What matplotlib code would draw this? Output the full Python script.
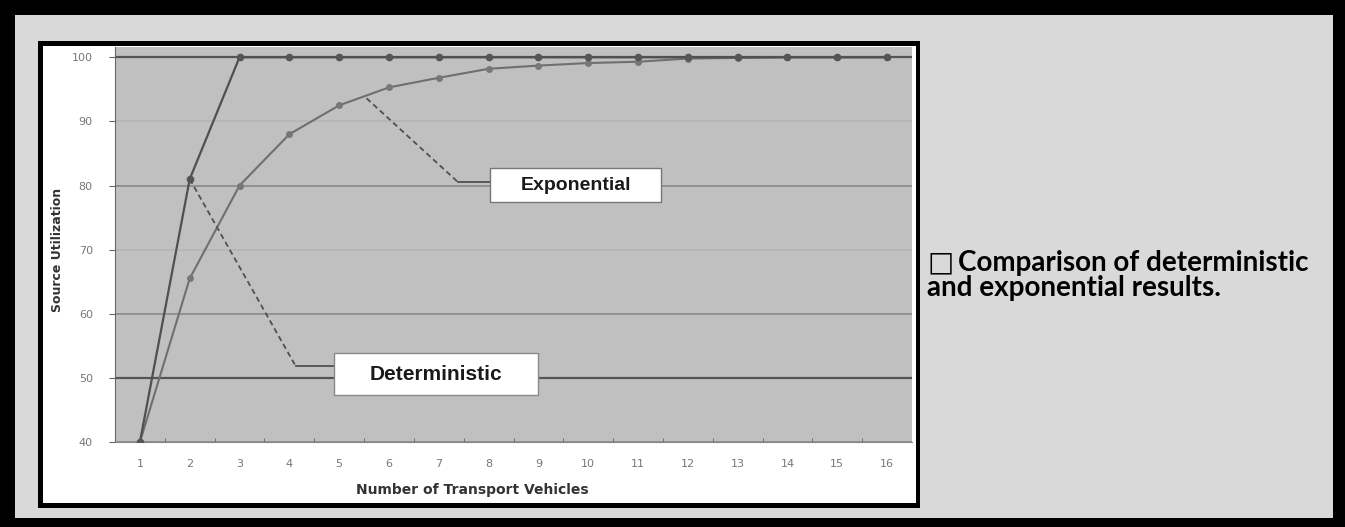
import numpy as np
import matplotlib
matplotlib.use("Agg")
import matplotlib.pyplot as plt
from matplotlib.patches import Rectangle

# Data
vehicles = list(range(1, 17))
deterministic = [40, 81, 100, 100, 100, 100, 100, 100, 100, 100, 100, 100, 100, 100, 100, 100]
exponential = [40, 65.5, 80, 88, 92.5, 95.3, 96.8, 98.2, 98.7, 99.1, 99.3, 99.8, 99.9, 100, 100, 100]
y_ticks = [40, 50, 60, 70, 80, 90, 100]
grid_colors = ["#888888", "#555555", "#8a8a8a", "#b4b4b4", "#888888", "#b4b4b4", "#555555"]
caption_lines = ["Comparison of deterministic", "and exponential results."]

W, H = 1345, 527


def fx(px):
    return px / W


def fy(py):
    return 1 - py / H


def fig_rect(x0, y0, x1, y1, **kw):
    # pixel box (top-left origin) -> figure fraction rectangle
    return Rectangle((fx(x0), fy(y1)), fx(x1) - fx(x0), fy(y0) - fy(y1),
                     transform=fig.transFigure, **kw)


fig = plt.figure(figsize=(W / 100, H / 100), dpi=100, facecolor="black")

# outer grey panel and white chart frame
fig.patches.append(fig_rect(15, 15, 1333, 518, facecolor="#d9d9d9", edgecolor="none", zorder=-3))
fig.patches.append(fig_rect(38, 41, 920, 508, facecolor="black", edgecolor="none", zorder=-2))
fig.patches.append(fig_rect(43, 46, 916, 503, facecolor="white", edgecolor="none", zorder=-1))

ax = fig.add_axes([fx(115), fy(442), fx(912) - fx(115), fy(47) - fy(442)])
ax.set_zorder(2)
ax.set_facecolor("#c0c0c0")
ax.set_xlim(0.5, 16.5)
ax.set_ylim(40, 101.6)

for yv, c in zip(y_ticks, grid_colors):
    ax.axhline(yv, color=c, lw=1.6 if c == "#555555" else 1.2, zorder=1)

ax.plot(vehicles, exponential, color="#6f6f6f", lw=1.5, marker="o", ms=4,
        mfc="#777777", mec="#777777", zorder=3)
ax.plot(vehicles, deterministic, color="#505050", lw=1.6, marker="o", ms=4.5,
        mfc="#555555", mec="#555555", zorder=4)

# callouts
ax.plot([5.55, 7.39], [93.6, 80.5], color="#505050", lw=1.3, ls=(0, (3, 2)), zorder=5)
ax.plot([7.39, 8.03], [80.5, 80.5], color="#505050", lw=1.3, zorder=5)
ax.add_patch(Rectangle((8.03, 77.4), 3.43, 5.3, facecolor="white", edgecolor="#777777", lw=1, zorder=6))
ax.text(9.745, 80.0, "Exponential", ha="center", va="center", fontsize=14,
        family="Liberation Sans", weight="bold", color="#1a1a1a", zorder=7)

ax.plot([2.0, 4.13], [81, 51.8], color="#505050", lw=1.3, ls=(0, (3, 2)), zorder=5)
ax.plot([4.13, 4.89], [51.8, 51.8], color="#505050", lw=1.3, zorder=5)
ax.add_patch(Rectangle((4.89, 47.3), 4.1, 6.6, facecolor="white", edgecolor="#888888", lw=1, zorder=6))
ax.text(6.94, 50.5, "Deterministic", ha="center", va="center", fontsize=15,
        family="Liberation Sans", weight="bold", color="#1a1a1a", zorder=7)

for s in ["top", "right"]:
    ax.spines[s].set_visible(False)
ax.spines["left"].set_color("#666666")
ax.spines["bottom"].set_color("#888888")

ax.set_yticks(y_ticks)
ax.set_yticklabels([str(v) for v in y_ticks], fontsize=8, color="#777777")
ax.set_xticks(vehicles)
ax.set_xticklabels([str(v) for v in vehicles], fontsize=8, color="#777777")
ax.set_xticks(np.arange(1.5, 16.5, 1), minor=True)
ax.tick_params(axis="x", which="major", length=0, pad=12)
ax.tick_params(axis="x", which="minor", direction="in", length=3, color="#666666")
ax.tick_params(axis="y", length=4, color="#666666", pad=12)

fig.text(fx(58), fy(250), "Source Utilization", rotation=90, ha="center", va="center",
         fontsize=9, weight="bold", color="#333333")
fig.text(fx(472), fy(490), "Number of Transport Vehicles", ha="center", va="center",
         fontsize=10, weight="bold", color="#333333")

# caption with the box glyph
fig.text(fx(927), fy(270), "\u25a1", ha="left", va="baseline", fontsize=20,
         family="DejaVu Sans", color="black")
fig.text(fx(958), fy(271), caption_lines[0], ha="left", va="baseline", fontsize=20,
         family=["Lato", "DejaVu Sans"], weight="bold", color="black")
fig.text(fx(927), fy(296), caption_lines[1], ha="left", va="baseline", fontsize=20,
         family=["Lato", "DejaVu Sans"], weight="bold", color="black")

fig.savefig("out.png", dpi=100, facecolor=fig.get_facecolor())
